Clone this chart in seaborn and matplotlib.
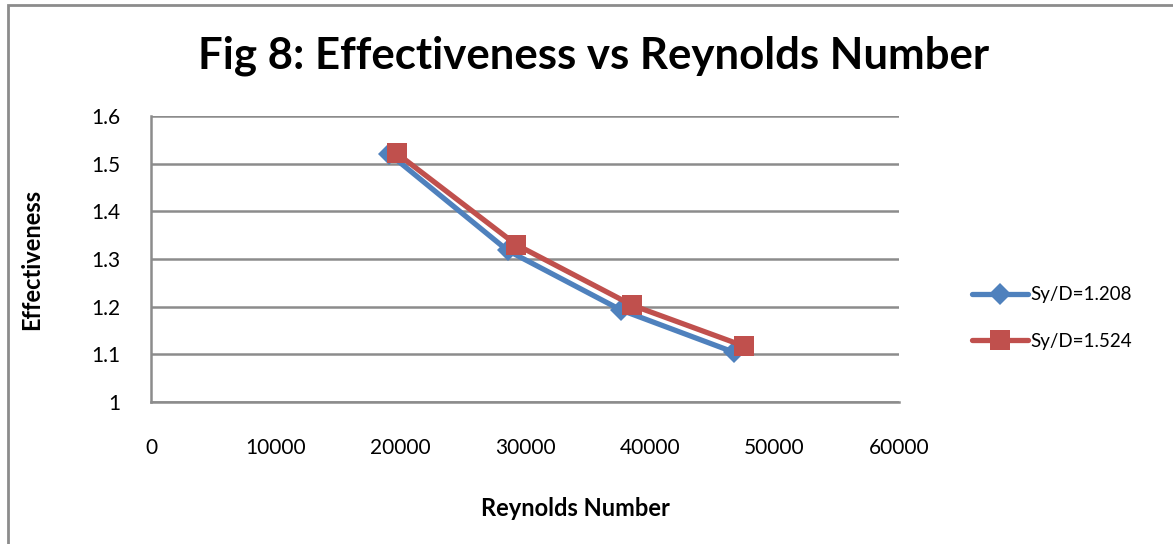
import matplotlib
matplotlib.use("Agg")
import matplotlib.pyplot as plt
import seaborn as sns
import pandas as pd
from matplotlib.patches import Rectangle

# Data
series_names = ["Sy/D=1.208", "Sy/D=1.524"]
re_1208 = [19100, 28600, 37700, 46800]
eff_1208 = [1.521, 1.318, 1.193, 1.104]
re_1524 = [19700, 29300, 38600, 47600]
eff_1524 = [1.522, 1.330, 1.203, 1.117]

x_ticks = [0, 10000, 20000, 30000, 40000, 50000, 60000]
y_ticks = [1.0, 1.1, 1.2, 1.3, 1.4, 1.5, 1.6]
y_tick_labels = ["1", "1.1", "1.2", "1.3", "1.4", "1.5", "1.6"]

title = "Fig 8: Effectiveness vs Reynolds Number"
x_label = "Reynolds Number"
y_label = "Effectiveness"

blue = "#4F81BD"
red = "#C0504D"
grid_gray = "#8C8C8C"

sns.set_theme(style="white")
plt.rcParams["font.family"] = ["Lato", "DejaVu Sans"]

fig = plt.figure(figsize=(11.73, 5.44), dpi=100)
ax = fig.add_axes([151 / 1173, 1 - 402 / 544, (899 - 151) / 1173, (402 - 116) / 544])

df1 = pd.DataFrame({"Re": re_1208, "Eff": eff_1208})
df2 = pd.DataFrame({"Re": re_1524, "Eff": eff_1524})

sns.lineplot(data=df1, x="Re", y="Eff", ax=ax, color=blue, linewidth=3.8,
             marker="D", markersize=11, markeredgewidth=0, sort=False,
             label=series_names[0], zorder=3)
sns.lineplot(data=df2, x="Re", y="Eff", ax=ax, color=red, linewidth=3.8,
             marker="s", markersize=14, markeredgewidth=0, sort=False,
             label=series_names[1], zorder=4)

ax.set_xlim(0, 60000)
ax.set_ylim(1.0, 1.6)
ax.set_xticks(x_ticks)
ax.set_xticklabels([str(v) for v in x_ticks])
ax.set_yticks(y_ticks)
ax.set_yticklabels(y_tick_labels)
ax.tick_params(axis="both", length=0, labelsize=15, colors="black")
ax.tick_params(axis="x", pad=26)
ax.tick_params(axis="y", pad=22)

ax.yaxis.grid(True, color=grid_gray, linewidth=1.8)
ax.xaxis.grid(False)
for side in ["top", "right"]:
    ax.spines[side].set_visible(False)
for side in ["left", "bottom"]:
    ax.spines[side].set_color(grid_gray)
    ax.spines[side].set_linewidth(1.8)

ax.set_xlabel("")
ax.set_ylabel("")
fig.text(575 / 1173, 1 - 508 / 544, x_label, ha="center", va="center",
         fontsize=17, fontweight="bold", color="black")
fig.text(32 / 1173, 1 - 259 / 544, y_label, ha="center", va="center",
         rotation=90, fontsize=17, fontweight="bold", color="black")
fig.text(594 / 1173, 1 - 56 / 544, title, ha="center", va="center",
         fontsize=31.5, fontweight="bold", color="black")

leg = ax.legend(loc="center left", bbox_to_anchor=(955 / 1173, 1 - 318 / 544),
                bbox_transform=fig.transFigure, frameon=False, fontsize=13.5,
                handlelength=3.0, handletextpad=0.1, labelspacing=1.55)
for t in leg.get_texts():
    t.set_color("black")

# Chart outer border
fig.patches.append(Rectangle((8 / 1173, -0.05), 1.2, 1 - 5 / 544 + 0.05,
                             transform=fig.transFigure, fill=False,
                             edgecolor="#8C8C8C", linewidth=2))

fig.savefig("out.png", dpi=100)
